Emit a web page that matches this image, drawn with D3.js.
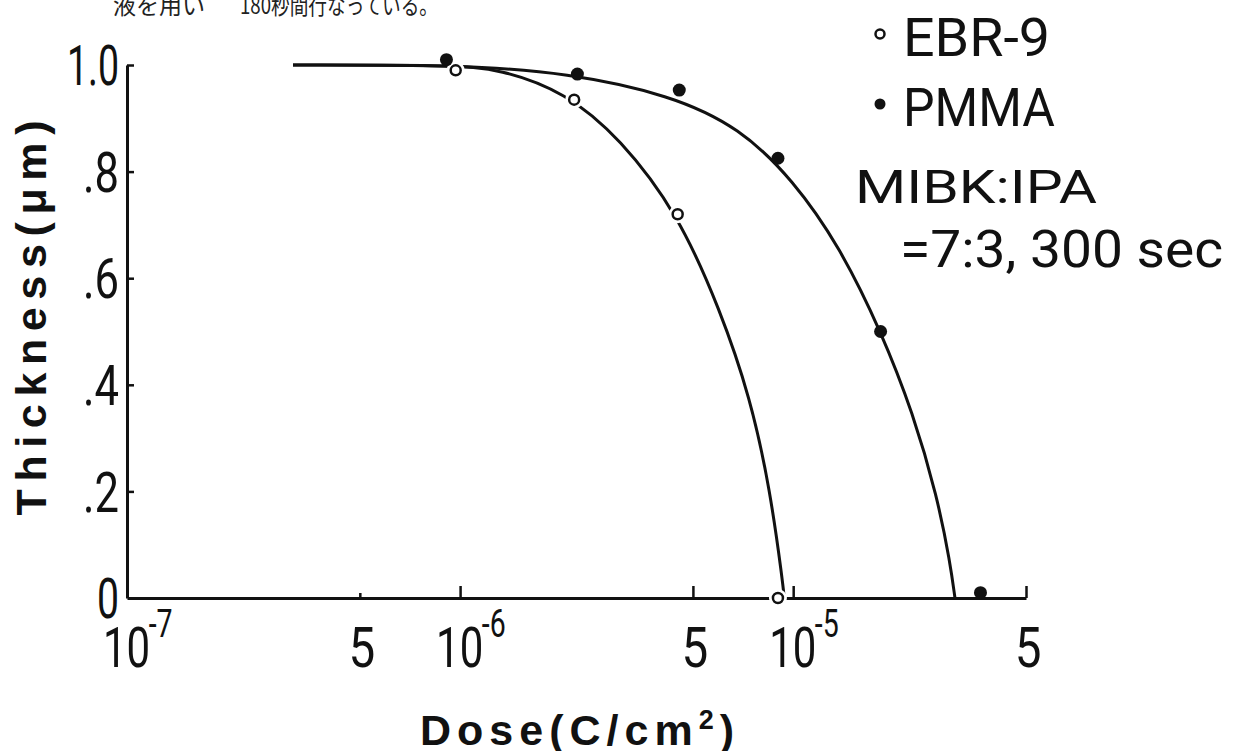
<!DOCTYPE html>
<html>
<head>
<meta charset="utf-8">
<script src="https://cdn.jsdelivr.net/npm/d3@7"></script>
<style>
  html, body { margin: 0; padding: 0; background: #fff; }
  svg { display: block; }
  .lbl { font-family: Roboto, "DejaVu Sans", sans-serif; font-weight: 400; fill: #111; }
  .ttl { font-family: "Liberation Sans", Arial, sans-serif; font-weight: bold; fill: #111; }
</style>
</head>
<body>
<svg id="chart" width="1240" height="751"></svg>
<script>
// Measured points (dose in C/cm², remaining thickness in µm)
const ebrDose  = [9.7e-7, 2.2e-6, 4.5e-6, 9.0e-6];
const ebrThick = [0.99, 0.935, 0.72, 0.0];
const pmmaDose  = [9.1e-7, 2.25e-6, 4.55e-6, 9.0e-6, 1.83e-5, 3.65e-5];
const pmmaThick = [1.01, 0.983, 0.953, 0.825, 0.50, 0.01];

// Hand-drawn fitted curves (dose, thickness), used as spline control points
const ebrCurveDose  = [3.15e-7, 9.33e-7, 1.32e-6, 2.07e-6, 3.02e-6, 4.52e-6, 6.04e-6, 7.43e-6, 8.53e-6, 9.3e-6, 9.4e-6];
const ebrCurveThick = [1.0, 1.0, 0.9925, 0.949, 0.863, 0.72, 0.54, 0.377, 0.203, 0.03, 0.0];
const pmmaCurveDose  = [3.15e-7, 1.02e-6, 2.1e-6, 4.27e-6, 6.93e-6, 1.0e-5, 1.38e-5, 1.84e-5, 2.29e-5, 2.71e-5, 2.96e-5, 3.06e-5];
const pmmaCurveThick = [1.0, 1.0, 0.985, 0.944, 0.882, 0.784, 0.659, 0.499, 0.347, 0.189, 0.066, 0.0];

// Axis ticks
const xTicks = [5e-7, 1e-6, 5e-6, 1e-5, 5e-5];
const xDecadeLabels = [{v: 1e-7, base: "10", exp: "-7"}, {v: 1e-6, base: "10", exp: "-6"}, {v: 1e-5, base: "10", exp: "-5"}];
const xFiveLabels = [5e-7, 5e-6, 5e-5];
const yTicks = [0, 0.2, 0.4, 0.6, 0.8, 1.0];
const yTickLabels = ["0", ".2", ".4", ".6", ".8", "1.0"];

const legendItems = [{name: "EBR-9", open: true}, {name: "PMMA", open: false}];
const conditionLines = ["MIBK:IPA", "=7:3, 300 sec"];
const captionLeft = "液を用い";
const captionRight = "180秒間行なっている。";

const svg = d3.select("#chart");
svg.append("rect").attr("width", 1240).attr("height", 751).attr("fill", "#fff");

const x = d3.scaleLog().domain([1e-7, 5e-5]).range([127, 1026]);
const y = d3.scaleLinear().domain([0, 1]).range([598, 65]);

// caption fragment at top (cut by the page edge)
svg.append("text").attr("x", 113).attr("y", 13.5)
  .style("font-family", "'Noto Sans CJK JP', sans-serif").style("font-size", "24px")
  .attr("textLength", 92).attr("lengthAdjust", "spacingAndGlyphs")
  .attr("fill", "#222").text(captionLeft);
svg.append("text").attr("x", 240).attr("y", 13.5)
  .style("font-family", "'Noto Sans CJK JP', sans-serif").style("font-size", "24px")
  .attr("textLength", 198).attr("lengthAdjust", "spacingAndGlyphs")
  .attr("fill", "#222").text(captionRight);

// x axis
const gx = svg.append("g").attr("transform", "translate(0,598)")
  .call(d3.axisBottom(x).tickValues(xTicks).tickSize(-12).tickSizeOuter(0).tickFormat(""));
gx.select(".domain").attr("stroke", "#111").attr("stroke-width", 3);
gx.selectAll(".tick line").attr("stroke", "#111").attr("stroke-width", 2.5)
  .attr("y2", d => d === 5e-7 ? -5 : -12);

// y axis
const gy = svg.append("g").attr("transform", "translate(127,0)")
  .call(d3.axisLeft(y).tickValues(yTicks).tickSize(-7).tickSizeOuter(0).tickFormat(""));
gy.select(".domain").attr("stroke", "#111").attr("stroke-width", 3);
gy.selectAll(".tick line").attr("stroke", "#111").attr("stroke-width", 2.5)
  .attr("x2", d => d === 0 ? 0 : 7);

// y tick labels
svg.append("g").selectAll("text").data(yTicks).join("text")
  .attr("class", "lbl")
  .attr("x", 119).attr("y", d => y(d)).attr("dy", "0.36em")
  .attr("text-anchor", "end").style("font-size", "56px")
  .attr("textLength", (d, i) => yTickLabels[i].length === 1 ? 22 : (yTickLabels[i].length === 2 ? 36 : 52))
  .attr("lengthAdjust", "spacingAndGlyphs")
  .text((d, i) => yTickLabels[i]);

// x tick labels: decades with superscript exponent (narrowed face)
const dec = svg.append("g").selectAll("text").data(xDecadeLabels).join("text")
  .attr("class", "lbl")
  .attr("transform", d => `translate(${x(d.v) - 24},667) scale(0.75,1)`)
  .style("font-size", "56px");
dec.append("tspan").text(d => d.base);
dec.append("tspan").attr("dy", -30).attr("dx", -2).style("font-size", "38px").text(d => d.exp);

svg.append("g").selectAll("text").data(xFiveLabels).join("text")
  .attr("class", "lbl")
  .attr("transform", d => `translate(${x(d) + 2},667) scale(0.85,1)`)
  .attr("text-anchor", "middle")
  .style("font-size", "56px").text("5");

// axis titles
svg.append("text").attr("class", "ttl")
  .attr("x", 420).attr("y", 745).style("font-size", "43px")
  .style("letter-spacing", "6px")
  .html('Dose(C/cm<tspan dy="-16" style="font-size:27px">2</tspan><tspan dy="16">)</tspan>');

svg.append("text").attr("class", "ttl")
  .attr("transform", "translate(46,318) rotate(-90)")
  .attr("text-anchor", "middle").style("font-size", "43px")
  .attr("textLength", 395).attr("lengthAdjust", "spacing")
  .text("Thickness(μm)");

// curves: smooth B-spline through the control points
const line = d3.line().x(d => x(d[0])).y(d => y(d[1])).curve(d3.curveBasis);
const ebrCurve = ebrCurveDose.map((d, i) => [d, ebrCurveThick[i]]);
const pmmaCurve = pmmaCurveDose.map((d, i) => [d, pmmaCurveThick[i]]);
svg.append("path").datum(pmmaCurve).attr("d", line)
  .attr("fill", "none").attr("stroke", "#111").attr("stroke-width", 3);
svg.append("path").datum(ebrCurve).attr("d", line)
  .attr("fill", "none").attr("stroke", "#111").attr("stroke-width", 3);

// points
const ebrPts = ebrDose.map((d, i) => [d, ebrThick[i]]);
const pmmaPts = pmmaDose.map((d, i) => [d, pmmaThick[i]]);
svg.append("g").selectAll("circle").data(ebrPts).join("circle")
  .attr("cx", d => x(d[0])).attr("cy", d => y(d[1])).attr("r", 9).attr("fill", "#fff");
svg.append("g").selectAll("circle").data(ebrPts).join("circle")
  .attr("cx", d => x(d[0])).attr("cy", d => y(d[1])).attr("r", 5)
  .attr("fill", "#fff").attr("stroke", "#111").attr("stroke-width", 2.5);
svg.append("g").selectAll("circle").data(pmmaPts).join("circle")
  .attr("cx", d => x(d[0])).attr("cy", d => y(d[1])).attr("r", 6.5).attr("fill", "#111");

// legend
const lg = svg.append("g");
const legendY = [36, 106];
legendItems.forEach((it, i) => {
  lg.append("circle").attr("cx", 880).attr("cy", legendY[i] - 2)
    .attr("r", it.open ? 4.5 : 5.5)
    .attr("fill", it.open ? "#fff" : "#111")
    .attr("stroke", "#111").attr("stroke-width", it.open ? 2.5 : 0);
  lg.append("text").attr("class", "lbl").attr("x", 903).attr("y", legendY[i] + 20)
    .style("font-size", "54px").attr("textLength", i === 0 ? 147 : 152)
    .attr("lengthAdjust", "spacingAndGlyphs").text(it.name);
});
lg.append("text").attr("class", "lbl").attr("x", 855).attr("y", 203)
  .style("font-size", "46px").attr("textLength", 242)
  .attr("lengthAdjust", "spacingAndGlyphs").text(conditionLines[0]);
lg.append("text").attr("class", "lbl").attr("x", 900).attr("y", 267)
  .style("font-size", "52px").attr("textLength", 323)
  .attr("lengthAdjust", "spacingAndGlyphs").text(conditionLines[1]);
</script>
</body>
</html>
